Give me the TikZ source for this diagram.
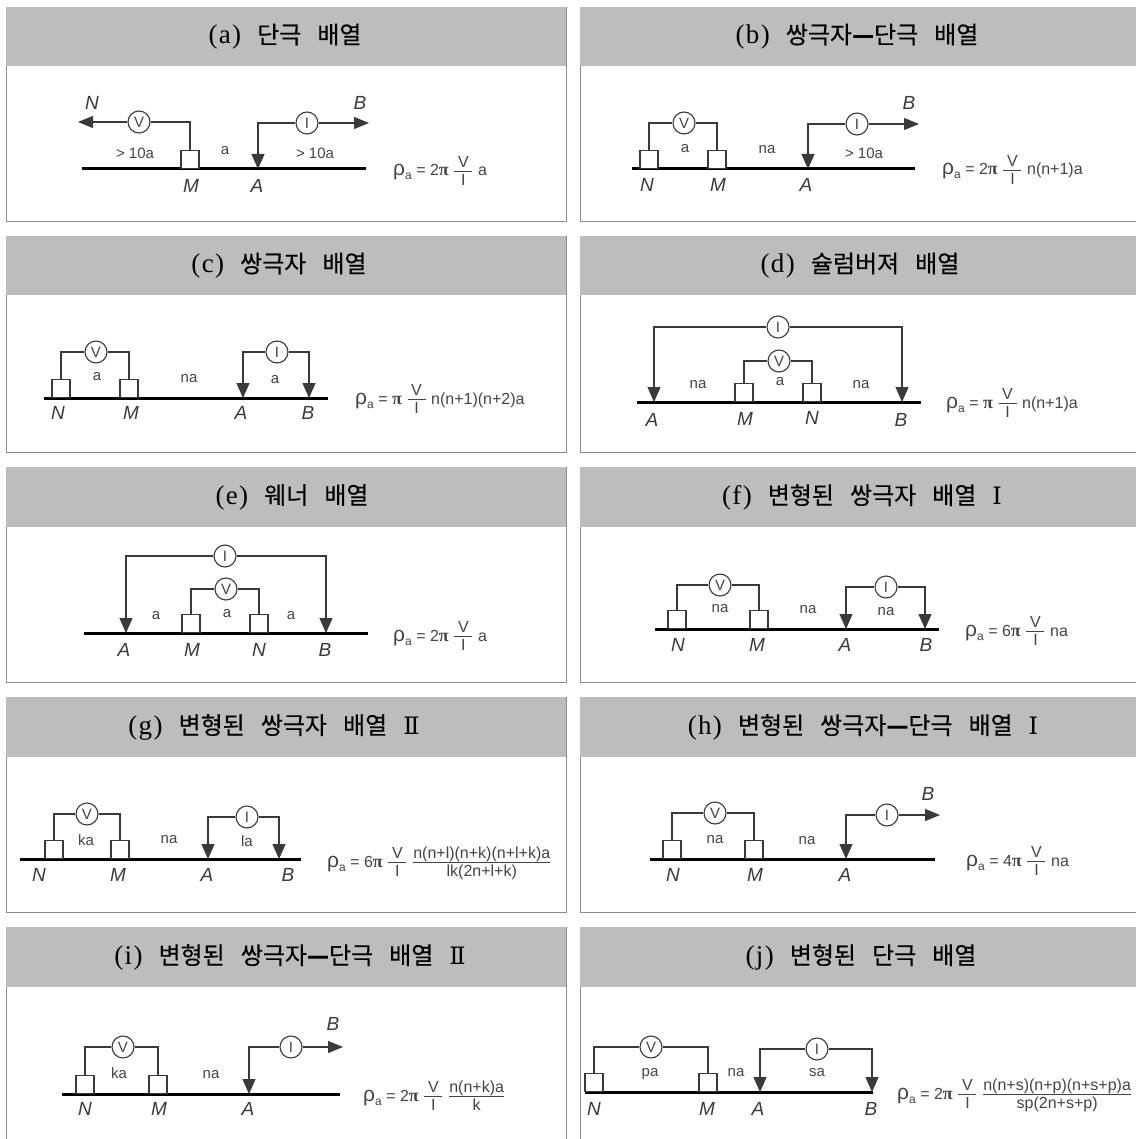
\documentclass[tikz,border=0pt]{standalone}
\usepackage{amsmath}
\usepackage{fontspec}
\usetikzlibrary{arrows.meta}
\setmainfont{Liberation Sans}
\newfontfamily\krf[FakeBold=0.3]{Noto Sans CJK KR}
\newfontfamily\serf{Liberation Serif}
\newfontfamily\sert[LetterSpace=5]{Liberation Serif}
\newfontfamily\romf{DejaVu Serif}
\definecolor{hdr}{HTML}{BDBDBD}
\definecolor{frm}{HTML}{8C8C8C}
\definecolor{ink}{HTML}{3A3A3A}
\definecolor{fink}{HTML}{444444}
\tikzset{
  panelbox/.style={draw=frm,line width=1pt,fill=white},
  hdrbox/.style={fill=hdr},
  ttl/.style={font=\fontsize{24}{26}\selectfont,text=black,inner sep=0pt},
  ground/.style={draw=black,line width=3pt},
  wire/.style={draw=ink,line width=1.1pt},
  tip/.style={-{Triangle[length=15pt,width=13pt]}},
  htip/.style={-{Triangle[length=15pt,width=12pt]}},
  elec/.style={draw=ink,fill=white,line width=1.1pt,minimum width=18pt,minimum height=18pt,inner sep=0pt,anchor=south},
  meter/.style={draw=ink,fill=white,line width=1.1pt,circle,minimum size=22pt,inner sep=0pt,font=\fontsize{15}{15}\selectfont,text=fink},
  letr/.style={font=\fontsize{19}{20}\selectfont\itshape,text=ink,inner sep=0pt},
  spanl/.style={font=\fontsize{15}{15}\selectfont,text=fink,inner sep=0pt},
  fml/.style={font=\fontsize{16}{16}\selectfont,text=fink,inner sep=0pt,anchor=base west}
}
\newcommand\Pfx{}
\newcommand\Gp{\hspace{16pt}}
\newcommand\Dsh{\textbf{—}}
\newcounter{spn}
\newcommand\Pnl[8]{% prefix x0 x1 y0 yh y1 xc title
  \renewcommand\Pfx{#1}
  \node[panelbox,minimum width=#3pt-#2pt,minimum height=#6pt-#4pt,inner sep=0pt,anchor=north west] (#1box) at (#2,#4) {};
  \node[hdrbox,minimum width=#3pt-#2pt,minimum height=#5pt-#4pt,inner sep=0pt,anchor=north west] (#1hdr) at (#2,#4) {};
  \node[ttl] (#1ttl) at (#7,{(#4+#5)/2}) {#8};
}
\newcommand\Gnd[3]{\coordinate (\Pfx La) at (#1,#3); \coordinate (\Pfx Lb) at (#2,#3); \draw[ground] (\Pfx La) -- (\Pfx Lb);}
\newcommand\Elc[3]{\node[elec] (\Pfx#1) at (#2,#3) {};}
\newcommand\Cur[3]{\coordinate (\Pfx#1) at (#2,#3);}
\newcommand\Mtr[4]{\node[meter] (\Pfx#1) at (#2,#3) {#4};}
\newcommand\Ltr[3]{\node[letr] (\Pfx l#1) at (#2,#3) {#1};}
\newcommand\Spn[3]{\stepcounter{spn}\node[spanl] (\Pfx s\arabic{spn}) at (#1,#2) {#3};}
\newcommand\Rh{{\fontsize{21}{21}\selectfont ρ}\raisebox{-4pt}{\fontsize{12}{12}\selectfont a}}
\newcommand\Pib{{\serf\bfseries\fontsize{18}{18}\selectfont π}}
\newcommand\Fr[2]{$\genfrac{}{}{0.9pt}{}{\mbox{\rule[-3pt]{0pt}{14pt}#1}}{\mbox{\rule[-3pt]{0pt}{15pt}#2}}$}
\newcommand\VI{\Fr{\makebox[18pt]{V}}{\makebox[18pt]{I}}}
\newcommand\Fml[3]{\node[fml] (\Pfx F) at (#1,{#2+7}) {#3};}
\newcommand\Ti[2]{{\sert\fontsize{27}{27}\selectfont #1}\Gp{\krf #2}}
\newcommand\RI{{\romf Ⅰ}}
\newcommand\RII{{\romf Ⅱ}}
\begin{document}
\begin{tikzpicture}[x=1pt,y=-1pt]
\useasboundingbox (0,0) rectangle (1135,1139);
% ---- a
\Pnl{a}{6}{566}{7}{66}{221}{285}{\Ti{(a)}{단극\Gp 배열}}
\Gnd{82}{366}{169}
\Elc{M}{190}{169}\Cur{A}{258}{169}
\Mtr{V}{139}{122}{V}\Mtr{I}{307}{123}{I}
\Cur{Nt}{78}{122}\Cur{Bt}{369}{123}
\draw[wire,htip] (aV) -- (aNt);
\draw[wire] (aV) -| (aM.north);
\draw[wire,tip] (aI) -| (aA);
\draw[wire,htip] (aI) -- (aBt);
\Ltr{N}{92}{103}\Ltr{B}{360}{103}\Ltr{M}{191}{186}\Ltr{A}{257}{186}
\Spn{135}{153}{> 10a}\Spn{225}{151}{a}\Spn{315}{153}{> 10a}
\Fml{393}{169}{\Rh{} = 2\Pib{} \VI{} a}
% ---- b
\Pnl{b}{580}{1140}{7}{66}{221}{857}{\Ti{(b)}{쌍극자\Dsh 단극\Gp 배열}}
\Gnd{632}{915}{169}
\Elc{N}{649}{169}\Elc{M}{717}{169}\Cur{A}{808}{169}
\Mtr{V}{684}{123}{V}\Mtr{I}{857}{124}{I}
\Cur{Bt}{919}{124}
\draw[wire] (bV) -| (bN.north);
\draw[wire] (bV) -| (bM.north);
\draw[wire,tip] (bI) -| (bA);
\draw[wire,htip] (bI) -- (bBt);
\Ltr{B}{909}{103}\Ltr{N}{647}{185}\Ltr{M}{718}{185}\Ltr{A}{806}{185}
\Spn{685}{149}{a}\Spn{767}{150}{na}\Spn{864}{153}{> 10a}
\Fml{942}{168}{\Rh{} = 2\Pib{} \VI{} n(n+1)a}
% ---- c
\Pnl{c}{6}{566}{236}{295}{452}{279}{\Ti{(c)}{쌍극자\Gp 배열}}
\Gnd{44}{328}{398}
\Elc{N}{61}{398}\Elc{M}{129}{398}\Cur{A}{243}{398}\Cur{B}{309}{398}
\Mtr{V}{96}{352}{V}\Mtr{I}{277}{352}{I}
\draw[wire] (cV) -| (cN.north);
\draw[wire] (cV) -| (cM.north);
\draw[wire,tip] (cI) -| (cA);
\draw[wire,tip] (cI) -| (cB);
\Ltr{N}{58}{413}\Ltr{M}{131}{413}\Ltr{A}{241}{413}\Ltr{B}{308}{413}
\Spn{97}{377}{a}\Spn{189}{379}{na}\Spn{275}{380}{a}
\Fml{355}{397}{\Rh{} = \Pib{} \VI{} n(n+1)(n+2)a}
% ---- d
\Pnl{d}{580}{1140}{236}{295}{452}{860}{\Ti{(d)}{슐럼버져\Gp 배열}}
\Gnd{637}{921}{402}
\Elc{M}{744}{402}\Elc{N}{812}{402}\Cur{A}{654}{402}\Cur{B}{902}{402}
\Mtr{V}{779}{361}{V}\Mtr{I}{778}{327}{I}
\draw[wire] (dV) -| (dM.north);
\draw[wire] (dV) -| (dN.north);
\draw[wire,tip] (dI) -| (dA);
\draw[wire,tip] (dI) -| (dB);
\Ltr{A}{652}{420}\Ltr{M}{745}{419}\Ltr{N}{812}{418}\Ltr{B}{901}{420}
\Spn{698}{385}{na}\Spn{780}{382}{a}\Spn{861}{385}{na}
\Fml{946}{401}{\Rh{} = \Pib{} \VI{} n(n+1)a}
% ---- e
\Pnl{e}{6}{566}{467}{527}{682}{292}{\Ti{(e)}{웨너\Gp 배열}}
\Gnd{84}{368}{633}
\Elc{M}{191}{633}\Elc{N}{259}{633}\Cur{A}{126}{633}\Cur{B}{326}{633}
\Mtr{V}{226}{589}{V}\Mtr{I}{225}{556}{I}
\draw[wire] (eV) -| (eM.north);
\draw[wire] (eV) -| (eN.north);
\draw[wire,tip] (eI) -| (eA);
\draw[wire,tip] (eI) -| (eB);
\Ltr{A}{124}{650}\Ltr{M}{192}{650}\Ltr{N}{259}{650}\Ltr{B}{325}{650}
\Spn{156}{616}{a}\Spn{227}{614}{a}\Spn{291}{616}{a}
\Fml{393}{634}{\Rh{} = 2\Pib{} \VI{} a}
% ---- f
\Pnl{f}{580}{1140}{467}{527}{682}{862}{\Ti{(f)}{변형된\Gp 쌍극자\Gp 배열\Gp\RI}}
\Gnd{655}{939}{629}
\Elc{N}{677}{629}\Elc{M}{759}{629}\Cur{A}{846}{629}\Cur{B}{925}{629}
\Mtr{V}{720}{585}{V}\Mtr{I}{886}{587}{I}
\draw[wire] (fV) -| (fN.north);
\draw[wire] (fV) -| (fM.north);
\draw[wire,tip] (fI) -| (fA);
\draw[wire,tip] (fI) -| (fB);
\Ltr{N}{678}{645}\Ltr{M}{757}{645}\Ltr{A}{845}{645}\Ltr{B}{926}{645}
\Spn{720}{609}{na}\Spn{808}{610}{na}\Spn{886}{612}{na}
\Fml{965}{629}{\Rh{} = 6\Pib{} \VI{} na}
% ---- g
\Pnl{g}{6}{566}{697}{757}{912}{274}{\Ti{(g)}{변형된\Gp 쌍극자\Gp 배열\Gp\RII}}
\Gnd{20}{301}{859}
\Elc{N}{54}{859}\Elc{M}{120}{859}\Cur{A}{208}{859}\Cur{B}{279}{859}
\Mtr{V}{87}{814}{V}\Mtr{I}{247}{817}{I}
\draw[wire] (gV) -| (gN.north);
\draw[wire] (gV) -| (gM.north);
\draw[wire,tip] (gI) -| (gA);
\draw[wire,tip] (gI) -| (gB);
\Ltr{N}{39}{875}\Ltr{M}{118}{875}\Ltr{A}{207}{875}\Ltr{B}{288}{875}
\Spn{86}{840}{ka}\Spn{169}{840}{na}\Spn{247}{841}{la}
\Fml{327}{860}{\Rh{} = 6\Pib{} \VI{} \Fr{n(n+l)(n+k)(n+l+k)a}{lk(2n+l+k)}}
% ---- h
\Pnl{h}{580}{1140}{697}{757}{912}{863}{\Ti{(h)}{변형된\Gp 쌍극자\Dsh 단극\Gp 배열\Gp\RI}}
\Gnd{650}{935}{859}
\Elc{N}{672}{859}\Elc{M}{754}{859}\Cur{A}{846}{859}
\Mtr{V}{715}{813}{V}\Mtr{I}{887}{815}{I}
\Cur{Bt}{940}{815}
\draw[wire] (hV) -| (hN.north);
\draw[wire] (hV) -| (hM.north);
\draw[wire,tip] (hI) -| (hA);
\draw[wire,htip] (hI) -- (hBt);
\Ltr{B}{928}{794}\Ltr{N}{673}{875}\Ltr{M}{755}{875}\Ltr{A}{845}{875}
\Spn{715}{840}{na}\Spn{807}{841}{na}
\Fml{966}{859}{\Rh{} = 4\Pib{} \VI{} na}
% ---- i
\Pnl{i}{6}{566}{927}{987}{1145}{290}{\Ti{(i)}{변형된\Gp 쌍극자\Dsh 단극\Gp 배열\Gp\RII}}
\Gnd{62}{340}{1094}
\Elc{N}{85}{1094}\Elc{M}{158}{1094}\Cur{A}{249}{1094}
\Mtr{V}{123}{1047}{V}\Mtr{I}{291}{1047}{I}
\Cur{Bt}{343}{1047}
\draw[wire] (iV) -| (iN.north);
\draw[wire] (iV) -| (iM.north);
\draw[wire,tip] (iI) -| (iA);
\draw[wire,htip] (iI) -- (iBt);
\Ltr{B}{333}{1024}\Ltr{N}{85}{1109}\Ltr{M}{159}{1109}\Ltr{A}{248}{1109}
\Spn{119}{1073}{ka}\Spn{211}{1075}{na}
\Fml{363}{1094}{\Rh{} = 2\Pib{} \VI{} \Fr{n(n+k)a}{k}}
% ---- j
\Pnl{j}{580}{1140}{927}{987}{1145}{861}{\Ti{(j)}{변형된\Gp 단극\Gp 배열}}
\Gnd{585}{873}{1092}
\Elc{N}{594}{1092}\Elc{M}{708}{1092}\Cur{A}{760}{1092}\Cur{B}{872}{1092}
\Mtr{V}{651}{1047}{V}\Mtr{I}{817}{1049}{I}
\draw[wire] (jV) -| (jN.north);
\draw[wire] (jV) -| (jM.north);
\draw[wire,tip] (jI) -| (jA);
\draw[wire,tip] (jI) -| (jB);
\Ltr{N}{594}{1109}\Ltr{M}{707}{1109}\Ltr{A}{758}{1109}\Ltr{B}{871}{1109}
\Spn{650}{1074}{pa}\Spn{736}{1073}{na}\Spn{817}{1073}{sa}
\Fml{897}{1092}{\Rh{} = 2\Pib{} \VI{} \Fr{n(n+s)(n+p)(n+s+p)a}{sp(2n+s+p)}}
\end{tikzpicture}
\end{document}
